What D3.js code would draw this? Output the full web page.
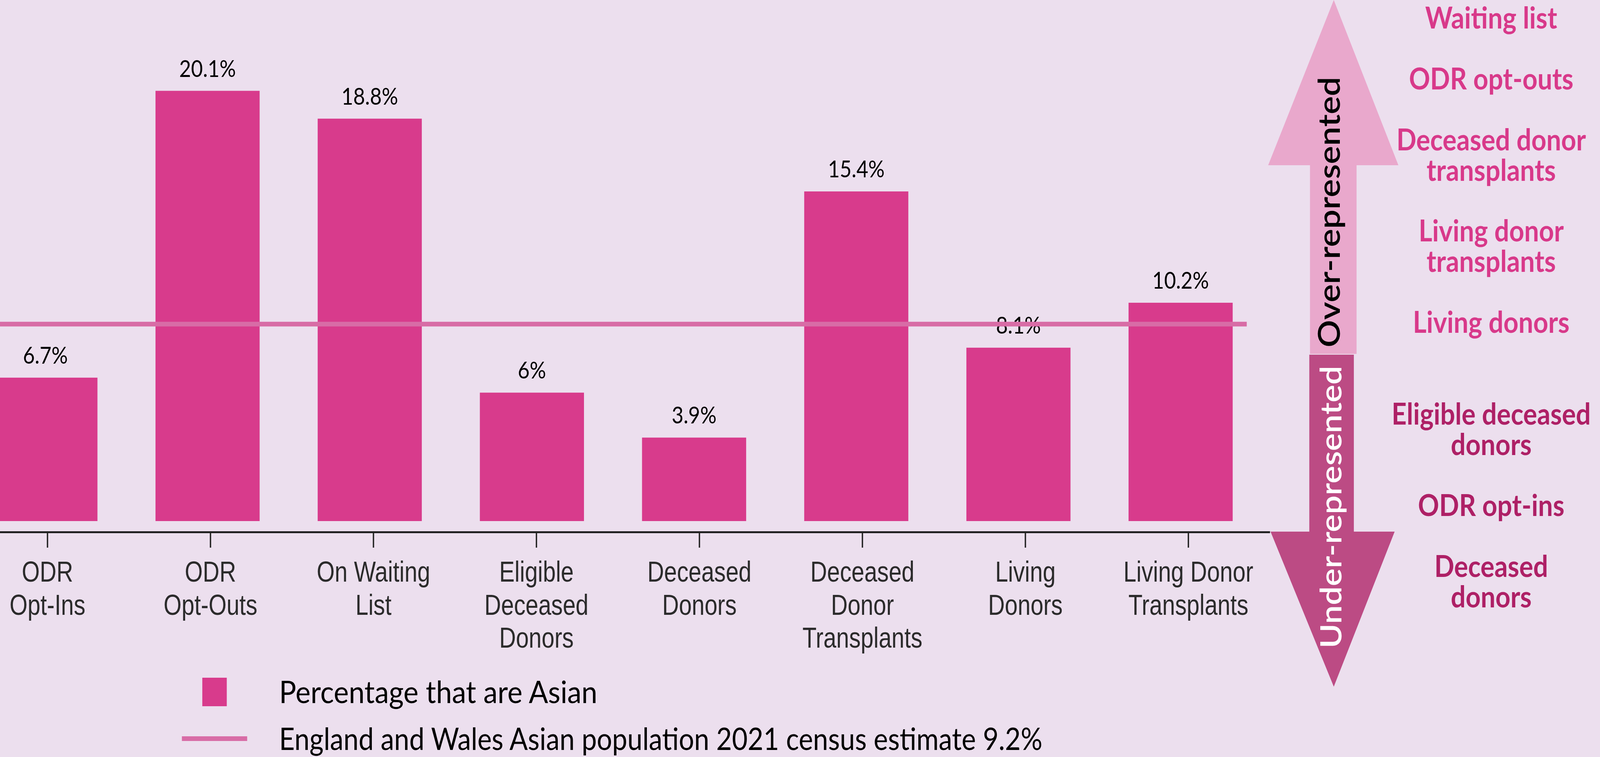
<!DOCTYPE html>
<html>
<head>
<meta charset="utf-8">
<script src="https://cdn.jsdelivr.net/npm/d3@7"></script>
<style>
  html, body { margin: 0; padding: 0; overflow: hidden; background: #ecdfee; }
  svg { display: block; }
</style>
</head>
<body>
<div class="chart"></div>
<script>
// data
const categories = [
  ["ODR", "Opt-Ins"],
  ["ODR", "Opt-Outs"],
  ["On Waiting", "List"],
  ["Eligible", "Deceased", "Donors"],
  ["Deceased", "Donors"],
  ["Deceased", "Donor", "Transplants"],
  ["Living", "Donors"],
  ["Living Donor", "Transplants"]
]
const values = [6.7, 20.1, 18.8, 6, 3.9, 15.4, 8.1, 10.2]
const valueLabels = ["6.7%", "20.1%", "18.8%", "6%", "3.9%", "15.4%", "8.1%", "10.2%"]
const censusValue = 9.2

const legendLabels = [
  "Percentage that are Asian",
  "England and Wales Asian population 2021 census estimate 9.2%"
]
const overLabels = [
  ["Waiting list"],
  ["ODR opt-outs"],
  ["Deceased donor", "transplants"],
  ["Living donor", "transplants"],
  ["Living donors"]
]
const underLabels = [
  ["Eligible deceased", "donors"],
  ["ODR opt-ins"],
  ["Deceased", "donors"]
]

// layout
const W = 4706, H = 1938
const baseY = 1334
const colors = {
  bg: "#ecdfee",
  bar: "#d83b8c",
  line: "#d86ca6",
  upArrow: "#e9a8cc",
  downArrow: "#bc4b84",
  overText: "#d8398a",
  underText: "#ae2066"
}

// scale the drawing to whatever the window really is
const svg = d3.select(".chart").append("svg")
  .attr("viewBox", `0 0 ${W} ${H}`)
  .attr("preserveAspectRatio", "none")
  .style("width", "100vw")
  .style("height", "100vh")

svg.append("rect").attr("width", W).attr("height", H).attr("fill", colors.bg)

const x = d3.scaleBand()
  .domain(d3.range(categories.length))
  .range([-105, 3711])
  .paddingInner(0.358)
  .paddingOuter(0.179)

const y = d3.scaleLinear()
  .domain([0, 20])
  .range([baseY, 238])

// bars
svg.append("g")
  .selectAll("rect")
  .data(values)
  .join("rect")
  .attr("x", (d, i) => x(i))
  .attr("y", d => y(d))
  .attr("width", x.bandwidth())
  .attr("height", d => baseY - y(d))
  .attr("fill", colors.bar)

// value labels
svg.append("g")
  .selectAll("text")
  .data(values)
  .join("text")
  .attr("x", (d, i) => x(i) + x.bandwidth() / 2)
  .attr("y", d => y(d) - 36)
  .attr("text-anchor", "middle")
  .attr("font-family", "Lato, sans-serif")
  .attr("font-size", 60)
  .attr("fill", "#000")
  .text((d, i) => valueLabels[i])

// census line (sits over bars and labels)
svg.append("line")
  .attr("x1", 0)
  .attr("x2", 3667)
  .attr("y1", y(censusValue))
  .attr("y2", y(censusValue))
  .attr("stroke", colors.line)
  .attr("stroke-width", 12)

// x axis
const xAxisScale = x.copy().range([-100, 3735])
const axis = svg.append("g")
  .attr("transform", "translate(0,1362)")
  .call(d3.axisBottom(xAxisScale).tickSize(40).tickSizeOuter(0).tickFormat(""))
axis.select(".domain").attr("stroke", "#222").attr("stroke-width", 5)
axis.selectAll(".tick line").attr("stroke", "#222").attr("stroke-width", 4)

const catLabels = svg.append("g")
  .selectAll("text")
  .data(categories)
  .join("text")
  .attr("transform", (d, i) =>
    `translate(${xAxisScale(i) + xAxisScale.bandwidth() / 2}, 1489) scale(1, 1.1)`)
  .attr("text-anchor", "middle")
  .attr("font-family", "'Liberation Sans', Arial, sans-serif")
  .attr("font-size", 68)
  .attr("fill", "#2b2b2b")

catLabels.selectAll("tspan")
  .data(d => d)
  .join("tspan")
  .attr("x", 0)
  .attr("y", (d, i) => i * 77)
  .text(d => d)

// legend
const legendWidths = [936, 2245]
svg.append("rect")
  .attr("x", 595).attr("y", 1735)
  .attr("width", 72).attr("height", 73)
  .attr("fill", colors.bar)
svg.append("line")
  .attr("x1", 535).attr("x2", 727)
  .attr("y1", 1891).attr("y2", 1891)
  .attr("stroke", colors.line)
  .attr("stroke-width", 12)
svg.append("g")
  .selectAll("text")
  .data(legendLabels)
  .join("text")
  .attr("x", 821)
  .attr("y", (d, i) => 1800 + i * 120)
  .attr("font-family", "Lato, sans-serif")
  .attr("font-size", 80)
  .attr("textLength", (d, i) => legendWidths[i])
  .attr("lengthAdjust", "spacingAndGlyphs")
  .attr("fill", "#000")
  .text(d => d)

// arrows
const arrowX = 3923
svg.append("path")
  .attr("d", `M${arrowX},0 L4113,423 L3990,423 L3990,906 L3853,906 L3853,423 L3730,423 Z`)
  .attr("fill", colors.upArrow)
svg.append("path")
  .attr("d", `M3851,908 L3982,908 L3982,1361 L4102,1361 L${arrowX},1758 L3737,1361 L3851,1361 Z`)
  .attr("fill", colors.downArrow)

svg.append("text")
  .attr("transform", "translate(3941, 543) rotate(-90)")
  .attr("text-anchor", "middle")
  .attr("font-family", "Lato, sans-serif")
  .attr("font-weight", 600)
  .attr("font-size", 88)
  .attr("fill", "#000")
  .text("Over-represented")

svg.append("text")
  .attr("transform", "translate(3945, 1298) rotate(-90)")
  .attr("text-anchor", "middle")
  .attr("font-family", "Lato, sans-serif")
  .attr("font-weight", 600)
  .attr("font-size", 86)
  .attr("fill", "#fff")
  .text("Under-represented")

// side labels
const overY = [73, 229, 385, 618, 852]
const underY = [1087, 1321, 1477]
const sideX = 4386

const drawSide = (labels, ys, color) => {
  const t = svg.append("g")
    .selectAll("text")
    .data(labels)
    .join("text")
    .attr("transform", (d, i) => `translate(${sideX}, ${ys[i]})`)
    .attr("text-anchor", "middle")
    .attr("font-family", "Lato, sans-serif")
    .attr("font-weight", 700)
    .attr("font-size", 77)
    .attr("fill", color)
  t.selectAll("tspan")
    .data(d => d)
    .join("tspan")
    .attr("x", 0)
    .attr("y", (d, i) => i * 78)
    .text(d => d)
}
drawSide(overLabels, overY, colors.overText)
drawSide(underLabels, underY, colors.underText)
</script>
</body>
</html>
